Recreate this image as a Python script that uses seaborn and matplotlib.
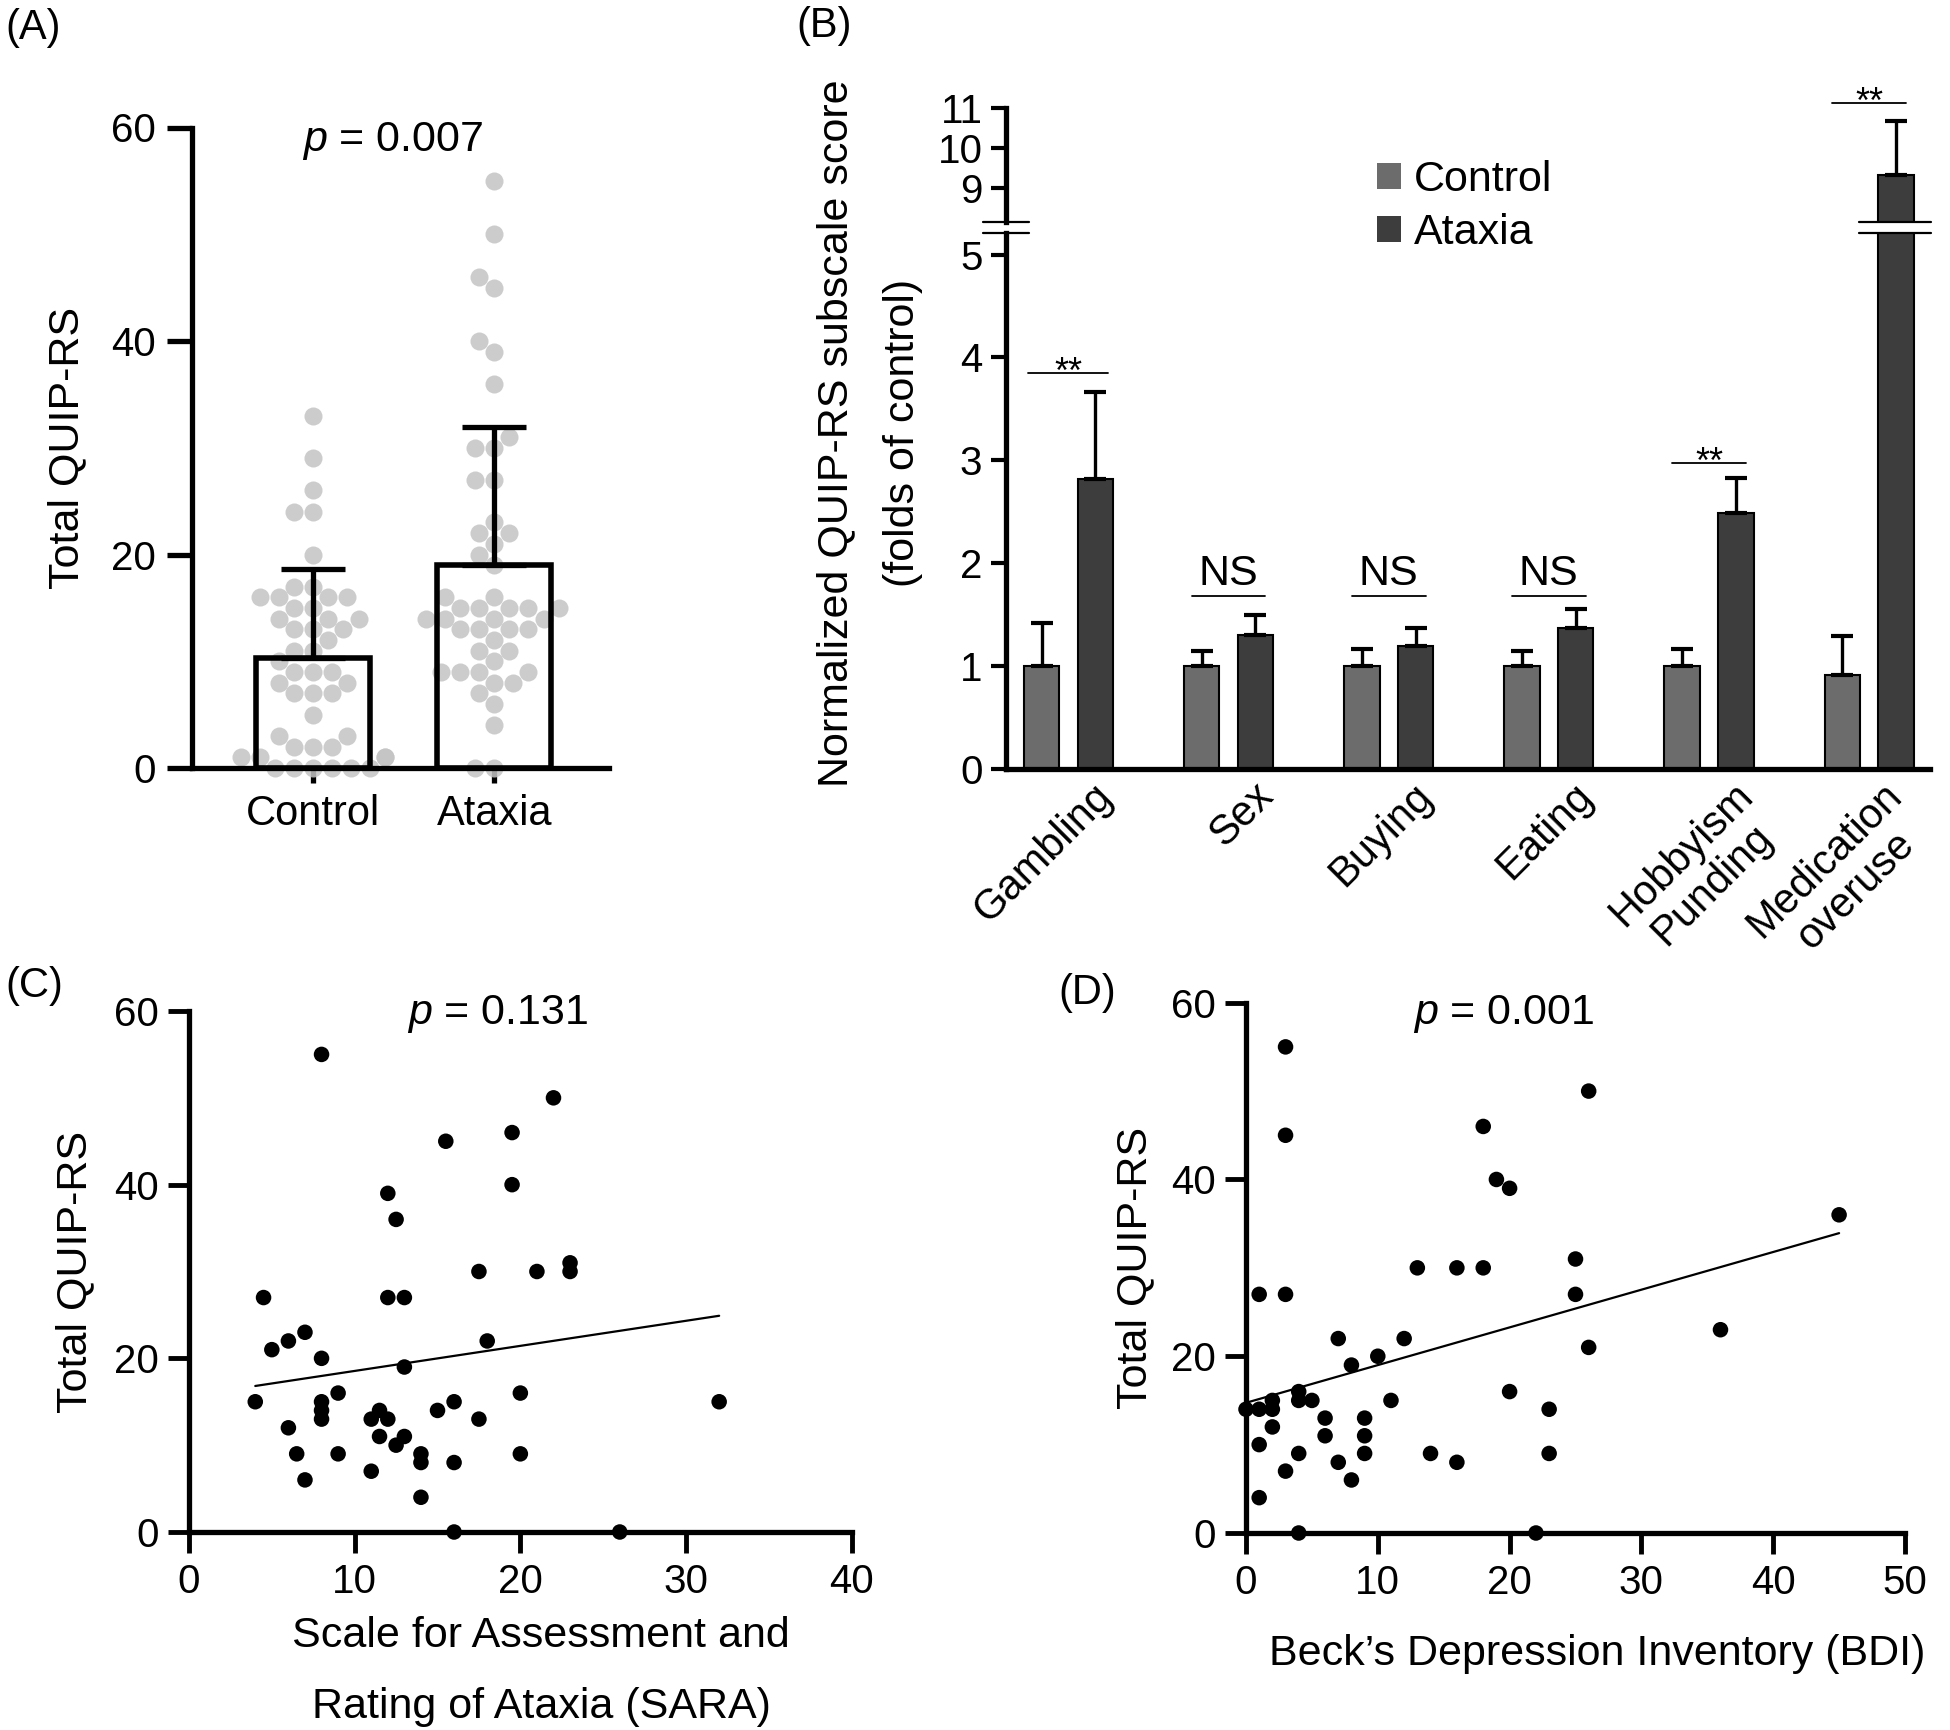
import matplotlib
matplotlib.use('Agg')
import matplotlib.pyplot as plt
from matplotlib.patches import Patch
from matplotlib.transforms import ScaledTranslation, blended_transform_factory
import seaborn as sns
import pandas as pd
import numpy as np

# (A) total QUIP-RS per subject
groups = ['Control', 'Ataxia']
control_quip = [33, 29, 26, 24, 24, 20, 17, 17, 16, 16, 16, 16, 15, 15, 14, 14, 14, 13, 13, 13,
                12, 11, 11, 10, 9, 9, 9, 8, 8, 7, 7, 7, 5, 3, 3, 2, 2, 2, 1, 1, 1, 1, 0, 0, 0, 0, 0, 0]
ataxia_quip = [55, 50, 46, 45, 40, 39, 36, 31, 30, 30, 27, 27, 23, 22, 22, 21, 20, 19, 16, 16,
               15, 15, 15, 15, 15, 14, 14, 14, 14, 13, 13, 13, 13, 12, 11, 11, 10, 9, 9, 9, 9,
               8, 8, 7, 6, 4, 0, 0]

# (B) normalized subscale scores (folds of control), mean and upper error
domains = ['Gambling', 'Sex', 'Buying', 'Eating', 'Hobbyism\nPunding', 'Medication\noveruse']
control_norm = [1.0, 1.0, 1.0, 1.0, 1.0, 0.91]
control_err = [0.42, 0.14, 0.16, 0.14, 0.16, 0.38]
ataxia_norm = [2.82, 1.30, 1.19, 1.37, 2.49, 9.33]
ataxia_err = [0.84, 0.19, 0.18, 0.18, 0.34, 1.35]
sig_marks = ['**', 'NS', 'NS', 'NS', '**', '**']
sig_heights = [3.85, 1.68, 1.68, 1.68, 2.97, 11.12]

# (C) SARA vs total QUIP-RS
sara = [8, 22, 19.5, 15.5, 19.5, 12, 12.5, 23, 23, 21, 17.5, 4.5, 12, 13, 7, 6, 5, 18, 8, 13,
        4, 8, 8, 8, 9, 6, 6.5, 7, 9, 11, 11.5, 12, 11.5, 12.5, 13, 11, 14, 14, 14, 15,
        16, 16, 16, 17.5, 20, 20, 26, 32]
sara_quip = [55, 50, 46, 45, 40, 39, 36, 31, 30, 30, 30, 27, 27, 27, 23, 22, 21, 22, 20, 19,
             15, 15, 14, 13, 16, 12, 9, 6, 9, 13, 14, 13, 11, 10, 11, 7, 9, 8, 4, 14,
             15, 8, 0, 13, 16, 9, 0, 15]

# (D) BDI vs total QUIP-RS
bdi = [3, 26, 18, 3, 19, 20, 45, 25, 13, 16, 18, 1, 3, 25, 36, 7, 12, 26, 10, 8,
       20, 4, 2, 4, 5, 11, 0, 1, 2, 23, 6, 9, 2, 6, 9, 1, 4, 9, 14, 23, 16, 7, 3, 8, 1, 4, 22]
bdi_quip = [55, 50, 46, 45, 40, 39, 36, 31, 30, 30, 30, 27, 27, 27, 23, 22, 22, 21, 20, 19,
            16, 16, 15, 15, 15, 15, 14, 14, 14, 14, 13, 13, 12, 11, 11, 10, 9, 9, 9, 9,
            8, 8, 7, 6, 4, 0, 0]

sns.set_theme(style='ticks')
plt.rcParams['font.family'] = ['Liberation Sans', 'DejaVu Sans']
plt.rcParams.update({'axes.edgecolor': 'black', 'xtick.color': 'black', 'ytick.color': 'black',
                     'text.color': 'black', 'axes.labelcolor': 'black',
                     'mathtext.fontset': 'custom', 'mathtext.rm': 'Liberation Sans',
                     'mathtext.it': 'Liberation Sans:italic'})

W, H = 1950, 1730
fig = plt.figure(figsize=(19.5, 17.3), dpi=100)


def fx(px):
    return px / W


def fy(py):
    return 1 - py / H


def box(left, top, right, bottom):
    return [fx(left), fy(bottom), (right - left) / W, (bottom - top) / H]


def style_axes(ax, lw, tick_len, tick_w, pad=7, labelsize=29):
    sns.despine(ax=ax)
    for s in ('left', 'bottom'):
        ax.spines[s].set_linewidth(lw)
    ax.tick_params(length=tick_len, width=tick_w, labelsize=labelsize, pad=pad)
    ax.set_xlabel('')
    ax.set_ylabel('')


# ---------------- (A) ----------------
df_a = pd.DataFrame({'group': ['Control'] * len(control_quip) + ['Ataxia'] * len(ataxia_quip),
                     'quip': control_quip + ataxia_quip})
axA = fig.add_axes(box(192, 127.5, 609, 768))
sns.swarmplot(data=df_a, x='group', y='quip', order=groups, color='#c4c4c4', size=13,
              alpha=0.85, ax=axA, zorder=2, clip_on=False)
sns.barplot(data=df_a, x='group', y='quip', order=groups, errorbar=None, fill=False,
            color='black', linewidth=4, width=0.63, ax=axA, zorder=3)
stats = df_a.groupby('group')['quip'].agg(['mean', 'std']).loc[groups]
axA.errorbar(x=np.arange(2), y=stats['mean'], yerr=[np.zeros(2), stats['std']], fmt='none',
             ecolor='black', elinewidth=3.8, capsize=23, capthick=3.8, zorder=4)
axA.set_xlim(-0.666, 1.633)
axA.set_ylim(0, 60)
axA.set_yticks([0, 20, 40, 60])
style_axes(axA, 3.8, 18, 3.8, pad=8)
axA.tick_params(axis='x', length=11, labelsize=30)
fig.text(fx(67), fy(448), 'Total QUIP-RS', rotation=90, ha='center', va='center', fontsize=31)
fig.text(fx(393), fy(151), '$p$ = 0.007', ha='center', va='baseline', fontsize=31)

# ---------------- (B) ----------------
df_b = pd.DataFrame({'domain': domains * 2,
                     'group': ['Control'] * len(domains) + ['Ataxia'] * len(domains),
                     'score': control_norm + ataxia_norm})
errs = [e for pair in zip(control_err, ataxia_err) for e in pair]
bar_colors = ['#6c6c6c', '#3d3d3d']

axB = fig.add_axes(box(1006, 233, 1930, 768.5))
axB_top = fig.add_axes(box(1006, 108.3, 1930, 222))
for ax in (axB, axB_top):
    sns.barplot(data=df_b, x='domain', y='score', hue='group', order=domains, hue_order=groups,
                palette=bar_colors, saturation=1, width=0.67, gap=0.34, edgecolor='black',
                linewidth=1.5, errorbar=None, legend=False, ax=ax)
    bars = sorted(ax.patches, key=lambda p: p.get_x())
    xs = [p.get_x() + p.get_width() / 2 for p in bars]
    hs = [p.get_height() for p in bars]
    ax.errorbar(xs, hs, yerr=[np.zeros(len(errs)), errs], fmt='none', ecolor='black',
                elinewidth=2.4, capsize=8, capthick=3, zorder=3)
    ax.set_xlim(-0.39, 5.38)

axB.set_ylim(0, 5.21)
axB.set_yticks([0, 1, 2, 3, 4, 5])
axB_top.set_ylim(8.16, 11)
axB_top.set_yticks([9, 10, 11])
style_axes(axB, 3.8, 11, 3, pad=6)
style_axes(axB_top, 3.8, 11, 3, pad=6)
axB_top.spines['bottom'].set_visible(False)
axB_top.tick_params(axis='x', bottom=False, labelbottom=False)
axB.tick_params(axis='x', length=0, pad=5)
axB.set_xticks(range(len(domains)))
axB.set_xticklabels(domains, rotation=45, ha='right', va='top', rotation_mode='anchor',
                    fontsize=30, multialignment='center', linespacing=1.1)
tick_labels = axB.get_xticklabels()
for k, lab in enumerate(tick_labels):
    shift = 0.24 if k < len(tick_labels) - 1 else 0.13
    lab.set_transform(lab.get_transform() + ScaledTranslation(shift, 0, fig.dpi_scale_trans))

# axis break marks
x0 = axB.get_xlim()[0]
med_bar = sorted(axB.patches, key=lambda p: p.get_x())[-1]
med_x = med_bar.get_x() + med_bar.get_width() / 2
for ax, yy in ((axB_top, 0), (axB, 1)):
    tr = blended_transform_factory(ax.transData, ax.transAxes)
    ax.plot([x0 - 0.144, x0 + 0.144], [yy, yy], transform=tr, color='black', lw=1.6, clip_on=False)
    ax.plot([med_x - 0.23, med_x + 0.22], [yy, yy], transform=tr, color='black', lw=1.6,
            clip_on=False)

# significance marks
for i, (mark, h) in enumerate(zip(sig_marks, sig_heights)):
    ax = axB_top if h > 8 else axB
    half = 0.25 if i == 0 else 0.23
    ax.plot([i - half, i + half], [h, h], color='black', lw=1.3, clip_on=False)
    if mark == 'NS':
        ax.annotate(mark, (i, h), xytext=(0, 8), textcoords='offset points', ha='center',
                    va='baseline', fontsize=31, annotation_clip=False)
    else:
        ax.annotate(mark, (i, h), xytext=(0, -7), textcoords='offset points', ha='center',
                    va='baseline', fontsize=26, annotation_clip=False)

handles = [Patch(facecolor=c, edgecolor='none') for c in bar_colors]
fig.legend(handles, groups, loc='upper left', bbox_to_anchor=(fx(1377), fy(160)),
           frameon=False, fontsize=31, handlelength=0.55, handleheight=0.55,
           handletextpad=0.3, labelspacing=0.3, borderpad=0, borderaxespad=0)
fig.text(fx(836), fy(433), 'Normalized QUIP-RS subscale score', rotation=90, ha='center',
         va='center', fontsize=31)
fig.text(fx(903), fy(433), '(folds of control)', rotation=90, ha='center', va='center',
         fontsize=31)

# ---------------- (C) ----------------
axC = fig.add_axes(box(189, 1011, 851.7, 1532))
sns.regplot(x=sara, y=sara_quip, ci=None, scatter=False, color='black',
            line_kws={'lw': 1.6}, ax=axC)
sns.scatterplot(x=sara, y=sara_quip, color='black', s=125, edgecolor='none', ax=axC,
                zorder=3, clip_on=False)
axC.set_xlim(0, 40)
axC.set_ylim(0, 60)
axC.set_xticks([0, 10, 20, 30, 40])
axC.set_yticks([0, 20, 40, 60])
style_axes(axC, 3.8, 15, 3.5, pad=7)
fig.text(fx(75), fy(1272), 'Total QUIP-RS', rotation=90, ha='center', va='center', fontsize=31)
fig.text(fx(541), fy(1647), 'Scale for Assessment and', ha='center', va='baseline', fontsize=31)
fig.text(fx(541), fy(1718), 'Rating of Ataxia (SARA)', ha='center', va='baseline', fontsize=31)
fig.text(fx(498), fy(1024), '$p$ = 0.131', ha='center', va='baseline', fontsize=31)

# ---------------- (D) ----------------
axD = fig.add_axes(box(1246, 1002.7, 1905, 1533))
sns.regplot(x=bdi, y=bdi_quip, ci=None, scatter=False, color='black',
            line_kws={'lw': 1.6}, ax=axD)
sns.scatterplot(x=bdi, y=bdi_quip, color='black', s=125, edgecolor='none', ax=axD,
                zorder=3, clip_on=False)
axD.set_xlim(0, 50)
axD.set_ylim(0, 60)
axD.set_xticks([0, 10, 20, 30, 40, 50])
axD.set_yticks([0, 20, 40, 60])
style_axes(axD, 3.8, 15, 3.5, pad=7)
fig.text(fx(1135), fy(1268), 'Total QUIP-RS', rotation=90, ha='center', va='center', fontsize=31)
fig.text(fx(1597), fy(1665), 'Beck\u2019s Depression Inventory (BDI)', ha='center',
         va='baseline', fontsize=31)
fig.text(fx(1504), fy(1024), '$p$ = 0.001', ha='center', va='baseline', fontsize=31)

# panel letters
for lab, (px, py) in {'(A)': (5, 8), '(B)': (796, 6), '(C)': (5, 966), '(D)': (1058, 973)}.items():
    fig.text(fx(px), fy(py), lab, ha='left', va='top', fontsize=30)

fig.savefig('out.png', dpi=100)
